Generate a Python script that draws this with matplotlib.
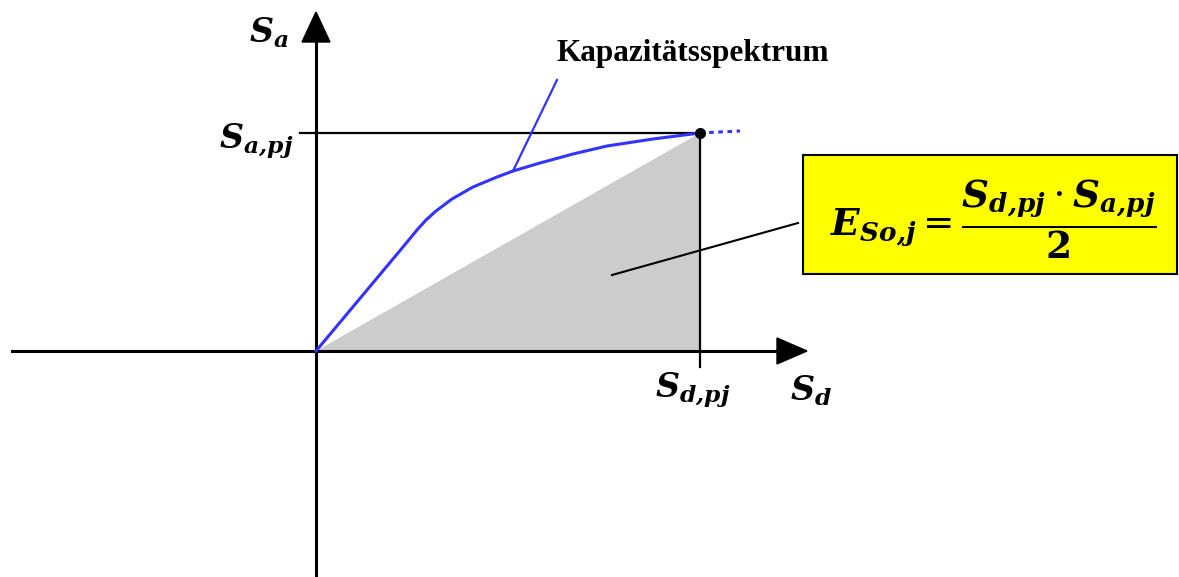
import numpy as np
import matplotlib.pyplot as plt
from matplotlib.patches import Polygon, Rectangle

plt.rcParams['mathtext.fontset'] = 'dejavuserif'

# capacity spectrum (schematic, Sd vs Sa)
sd_curve = [0, 87, 101, 110, 120, 136, 157, 181, 197, 224, 257, 291, 337, 384]
sa_curve = [0, 104, 121, 131, 140, 152, 164, 174, 180, 188, 197, 205, 212, 218]
# performance point
sd_pj = 384
sa_pj = 218
# dotted continuation beyond the performance point
sd_ext = [384, 424]
sa_ext = [218, 220]

fig = plt.figure(figsize=(11.79, 5.77), dpi=100)
ax = fig.add_axes([0, 0, 1, 1])
ax.set_xlim(-316, 863)
ax.set_ylim(-226, 351)
ax.axis('off')

blue = '#3333ff'

# grey triangle = energy E_So,j
ax.add_patch(Polygon([[0, 0], [sd_pj, sa_pj], [sd_pj, 0]], closed=True,
                     facecolor='#cccccc', edgecolor='none', zorder=1))

# axes with arrow heads
ax.plot([-304, 462], [0, 0], color='black', lw=2.2, zorder=2)
ax.plot([0, 0], [-226, 309], color='black', lw=2.2, zorder=2)
ax.add_patch(Polygon([[491, 0], [461, 13], [461, -13]], closed=True, color='black', zorder=2))
ax.add_patch(Polygon([[0, 339], [-14, 309], [14, 309]], closed=True, color='black', zorder=2))

# guide lines to the performance point
ax.plot([-16, sd_pj], [sa_pj, sa_pj], color='black', lw=1.6, zorder=2)
ax.plot([sd_pj, sd_pj], [-16, sa_pj], color='black', lw=1.6, zorder=2)

# curve
ax.plot(sd_curve, sa_curve, color=blue, lw=2.2, zorder=3, solid_joinstyle='round')
ax.plot(sd_ext, sa_ext, color=blue, lw=2.2, ls=(0, (1.5, 1.5)), zorder=3)
ax.plot([sd_pj], [sa_pj], 'o', color='black', ms=7, zorder=4)

# label for the curve
ax.plot([241, 197], [271, 180], color=blue, lw=1.6, zorder=3)
ax.text(377, 298, 'Kapazitätsspektrum', family='Liberation Serif', weight='bold',
        fontsize=22.5, ha='center', va='center')

# axis labels
fs = 24
ax.text(-47, 318, r'$\mathbfit{S_a}$', fontsize=fs, ha='center', va='center')
ax.text(-60, 210, r'$\mathbfit{S_{a{,}pj}}$', fontsize=fs, ha='center', va='center')
ax.text(377, -39, r'$\mathbfit{S_{d{,}pj}}$', fontsize=fs, ha='center', va='center')
ax.text(495, -40, r'$\mathbfit{S_d}$', fontsize=fs, ha='center', va='center')

# formula box
ax.plot([296, 482], [76, 128], color='black', lw=1.5, zorder=2)
ax.add_patch(Rectangle((487, 77), 374, 119, facecolor='#ffff00', edgecolor='black',
                       lw=1.5, zorder=3))
ax.text(677, 132,
        r'$\mathbfit{E_{So{,}j}} = \dfrac{\mathbfit{S_{d{,}pj}} \cdot \mathbfit{S_{a{,}pj}}}{\mathbf{2}}$',
        fontsize=27, ha='center', va='center', zorder=4)

plt.savefig('out.png', dpi=100)
